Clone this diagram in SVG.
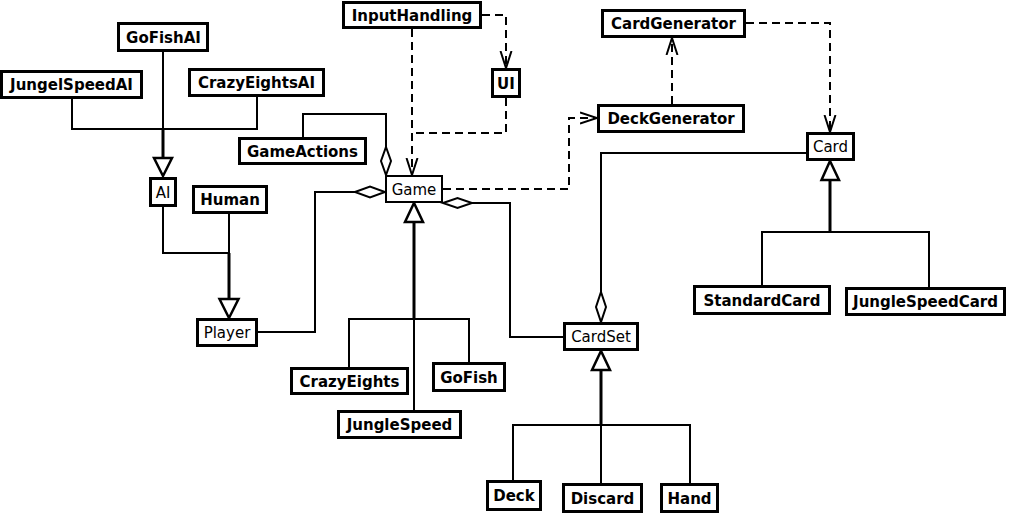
<svg xmlns="http://www.w3.org/2000/svg" width="1013" height="514" viewBox="0 0 1013 514">
  <defs>
    <style>
      .box { fill: #ffffff; stroke: #000000; stroke-width: 3; }
      .box-thin { fill: #ffffff; stroke: #000000; stroke-width: 2; }
      .lbl { font-family: "DejaVu Sans", Verdana, sans-serif; font-size: 15px; font-weight: bold; text-anchor: middle; fill: #000000; }
      .lbl-plain { font-family: "DejaVu Sans", Verdana, sans-serif; font-size: 15px; font-weight: normal; text-anchor: middle; fill: #000000; }
      .line { fill: none; stroke: #000000; stroke-width: 2; }
      .trunk { fill: none; stroke: #000000; stroke-width: 3; }
      .dep { fill: none; stroke: #000000; stroke-width: 2; stroke-dasharray: 8 5; marker-end: url(#open-arrow); }
      .tri { fill: #ffffff; stroke: #000000; stroke-width: 2.5; stroke-linejoin: miter; }
      .dia { fill: #ffffff; stroke: #000000; stroke-width: 2; }
    </style>
    <marker id="open-arrow" markerUnits="userSpaceOnUse" markerWidth="20" markerHeight="16" refX="17" refY="7" orient="auto">
      <path d="M0,1.5 L17,7 L0,12.5" fill="none" stroke="#000000" stroke-width="2" stroke-dasharray="none"/>
    </marker>
  </defs>

  <rect width="1013" height="514" fill="#ffffff"/>

  <g id="connectors">
    <!-- AI generalization -->
    <polyline class="line" points="163,52 163,128"/>
    <polyline class="trunk" points="163,128 163,158"/>
    <polyline class="line" points="72,99 72,129 257,129 257,97"/>
    <polygon class="tri" points="154,158 172,158 163,176"/>

    <!-- Player generalization -->
    <polyline class="line" points="163,207 163,253 229,253"/>
    <polyline class="line" points="229,214 229,253"/>
    <polyline class="trunk" points="229,253 229,299"/>
    <polygon class="tri" points="219.5,299 238.5,299 229,318"/>

    <!-- Player aggregated by Game -->
    <polyline class="line" points="258,332 315,332 315,192 355,192"/>
    <polygon class="dia" points="355,192 370,186.5 385,192 370,197.5"/>

    <!-- GameActions aggregated by Game -->
    <polyline class="line" points="303,138 303,114 386,114 386,147"/>
    <polygon class="dia" points="386,147 391,161 386,175 381,161"/>

    <!-- CardSet aggregated by Game -->
    <polyline class="line" points="472,203 510,203 510,337 563,337"/>
    <polygon class="dia" points="443,203 457.5,198 472,203 457.5,208"/>

    <!-- Game generalization -->
    <polygon class="tri" points="405,222 423,222 414,203"/>
    <polyline class="trunk" points="414,222 414,319"/>
    <polyline class="line" points="349,367 349,319 469,319 469,362"/>
    <polyline class="line" points="414,319 414,411"/>

    <!-- Card aggregated by CardSet -->
    <polyline class="line" points="806,153 601,153 601,292"/>
    <polygon class="dia" points="601,292 606,307 601,322 596,307"/>

    <!-- CardSet generalization -->
    <polygon class="tri" points="592,370 610,370 601,351"/>
    <polyline class="trunk" points="601,370 601,425"/>
    <polyline class="line" points="513,481 513,425 690,425 690,484"/>
    <polyline class="line" points="601,425 601,484"/>

    <!-- Card generalization -->
    <polygon class="tri" points="821.5,180 839,180 830,161"/>
    <polyline class="trunk" points="830,180 830,232"/>
    <polyline class="line" points="762,286 762,232 929,232 929,288"/>

    <!-- dependencies -->
    <polyline class="dep" points="482,15 506,15 506,68"/>
    <polyline class="dep" points="412,29 412,175"/>
    <polyline class="line" points="506,98 506,133 413,133" stroke-dasharray="8 5"/>
    <polyline class="dep" points="443,189 569,189 569,118 597,118"/>
    <polyline class="dep" points="672,104 672,38"/>
    <polyline class="dep" points="746,23 830,23 830,132"/>
  </g>

  <g id="GoFishAI"><rect class="box" x="118.5" y="23.5" width="89" height="27"/><text class="lbl" x="163.5" y="42.5">GoFishAI</text></g>
  <g id="JungelSpeedAI"><rect class="box" x="1.5" y="71.5" width="140" height="26"/><text class="lbl" x="71.5" y="90">JungelSpeedAI</text></g>
  <g id="CrazyEightsAI"><rect class="box" x="189.5" y="69.5" width="134" height="26"/><text class="lbl" x="256.5" y="88">CrazyEightsAI</text></g>
  <g id="GameActions"><rect class="box" x="239.5" y="138.5" width="126" height="25"/><text class="lbl" x="302.5" y="156.5">GameActions</text></g>
  <g id="AI"><rect class="box" x="150.5" y="178.5" width="25" height="27"/><text class="lbl-plain" x="163" y="197.5">AI</text></g>
  <g id="Human"><rect class="box" x="193.5" y="186.5" width="73" height="26"/><text class="lbl" x="230" y="205">Human</text></g>
  <g id="InputHandling"><rect class="box" x="343.5" y="2.5" width="137" height="25"/><text class="lbl" x="412" y="20.5">InputHandling</text></g>
  <g id="UI"><rect class="box" x="492.5" y="69.5" width="27" height="27"/><text class="lbl" x="506" y="88.5">UI</text></g>
  <g id="Game"><rect class="box-thin" x="386" y="176" width="56" height="26"/><text class="lbl-plain" x="414" y="194.5">Game</text></g>
  <g id="CardGenerator"><rect class="box" x="602.5" y="10.5" width="142" height="26"/><text class="lbl" x="673.5" y="29">CardGenerator</text></g>
  <g id="DeckGenerator"><rect class="box" x="598.5" y="105.5" width="145" height="26"/><text class="lbl" x="671" y="124">DeckGenerator</text></g>
  <g id="Card"><rect class="box" x="807.5" y="133.5" width="46" height="26"/><text class="lbl-plain" x="830.5" y="152">Card</text></g>
  <g id="Player"><rect class="box" x="197.5" y="319.5" width="59" height="26"/><text class="lbl-plain" x="227" y="338">Player</text></g>
  <g id="CrazyEights"><rect class="box" x="291.5" y="368.5" width="116" height="25"/><text class="lbl" x="349.5" y="386.5">CrazyEights</text></g>
  <g id="GoFish"><rect class="box" x="433.5" y="363.5" width="71" height="27"/><text class="lbl" x="469" y="382.5">GoFish</text></g>
  <g id="JungleSpeed"><rect class="box" x="338.5" y="411.5" width="122" height="26"/><text class="lbl" x="399.5" y="430">JungleSpeed</text></g>
  <g id="CardSet"><rect class="box" x="564.5" y="323.5" width="73" height="26"/><text class="lbl-plain" x="601" y="342">CardSet</text></g>
  <g id="Deck"><rect class="box" x="487.5" y="481.5" width="53" height="28"/><text class="lbl" x="514" y="501">Deck</text></g>
  <g id="Discard"><rect class="box" x="563.5" y="484.5" width="78" height="27"/><text class="lbl" x="602.5" y="503.5">Discard</text></g>
  <g id="Hand"><rect class="box" x="661.5" y="484.5" width="56" height="27"/><text class="lbl" x="689.5" y="503.5">Hand</text></g>
  <g id="StandardCard"><rect class="box" x="694.5" y="286.5" width="135" height="27"/><text class="lbl" x="762" y="305.5">StandardCard</text></g>
  <g id="JungleSpeedCard"><rect class="box" x="846.5" y="288.5" width="158" height="26"/><text class="lbl" x="925.5" y="307">JungleSpeedCard</text></g>
</svg>
